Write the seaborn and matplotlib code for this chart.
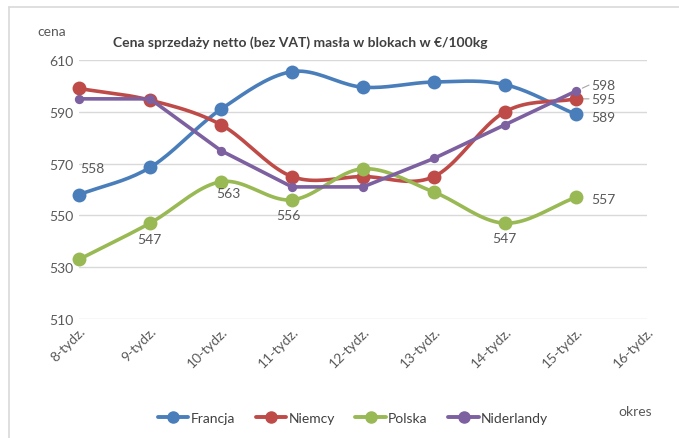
import numpy as np
import pandas as pd
import matplotlib
matplotlib.use("Agg")
import matplotlib.pyplot as plt
from matplotlib.lines import Line2D
import seaborn as sns

# ---- data ----
weeks = ["8-tydz.", "9-tydz.", "10-tydz.", "11-tydz.", "12-tydz.", "13-tydz.", "14-tydz.", "15-tydz.", "16-tydz."]
francja = [558, 568.5, 591, 605.5, 599.5, 601.5, 600.5, 589]
niemcy = [599, 594.5, 585, 565, 565, 565, 590, 595]
polska = [533, 547, 563, 556, 568, 559, 547, 557]
niderlandy = [595, 595, 575, 561, 561, 572, 585, 598]
series_names = ["Francja", "Niemcy", "Polska", "Niderlandy"]
colors = ["#4A7EBB", "#BE4B48", "#98B954", "#7D60A0"]
yticks = [510, 530, 550, 570, 590, 610]

sns.set_theme(style="white")
plt.rcParams["font.family"] = ["Lato", "DejaVu Sans"]
GRAY = "#595959"

W, H = 679, 439
fig = plt.figure(figsize=(W / 100, H / 100), dpi=100)
ax = fig.add_axes([79 / W, 1 - 320 / H, (647 - 79) / W, (320 - 61) / H])


def catmull(xs, ys, n=20):
    xs = np.asarray(xs, float)
    ys = np.asarray(ys, float)
    px = np.concatenate([[2 * xs[0] - xs[1]], xs, [2 * xs[-1] - xs[-2]]])
    py = np.concatenate([[2 * ys[0] - ys[1]], ys, [2 * ys[-1] - ys[-2]]])
    ox, oy = [], []
    t = np.linspace(0, 1, n, endpoint=False)
    for i in range(1, len(px) - 2):
        for arr, out in ((px, ox), (py, oy)):
            p0, p1, p2, p3 = arr[i - 1], arr[i], arr[i + 1], arr[i + 2]
            out.extend(0.5 * ((2 * p1) + (-p0 + p2) * t + (2 * p0 - 5 * p1 + 4 * p2 - p3) * t ** 2
                              + (-p0 + 3 * p1 - 3 * p2 + p3) * t ** 3))
    ox.append(xs[-1]); oy.append(ys[-1])
    return np.array(ox), np.array(oy)


data = [francja, niemcy, polska, niderlandy]
for k, (name, vals, col) in enumerate(zip(series_names, data, colors)):
    x = np.arange(len(vals))
    if name != "Niderlandy":
        sx, sy = catmull(x, vals)
        sns.lineplot(x=sx, y=sy, ax=ax, color=col, lw=2.6, sort=False, zorder=3 + k, clip_on=False)
        sns.scatterplot(x=x, y=vals, ax=ax, color=col, s=100, edgecolor=col, linewidth=0,
                        zorder=3 + k, clip_on=False)
    else:
        sns.lineplot(x=x, y=vals, ax=ax, color=col, lw=2.6, sort=False, zorder=3 + k, clip_on=False)
        sns.scatterplot(x=x, y=vals, ax=ax, color=col, s=45, edgecolor=col, linewidth=0,
                        zorder=3 + k, clip_on=False)

ax.set_xlim(0, 8)
ax.set_ylim(510, 610)
ax.set_yticks(yticks)
ax.set_yticklabels([str(v) for v in yticks], color=GRAY, fontsize=10)
ax.set_xticks(range(len(weeks)))
ax.set_xticklabels(weeks, rotation=45, ha="right", va="top", rotation_mode="anchor",
                   color=GRAY, fontsize=10)
for lab in ax.get_xticklabels():
    lab.set_transform(lab.get_transform() + matplotlib.transforms.ScaledTranslation(-9 / 100, -15 / 100, fig.dpi_scale_trans))
ax.tick_params(axis="both", length=0, pad=4)
ax.grid(axis="y", color="#D9D9D9", lw=1)
ax.grid(axis="x", visible=False)
for s in ax.spines.values():
    s.set_visible(False)
ax.set_xlabel("")
ax.set_ylabel("")

# data labels
def lab(x, y, text, dx, dy, ha="center"):
    ax.annotate(text, (x, y), xytext=(dx, -dy), textcoords="offset pixels",
                ha=ha, va="center", color=GRAY, fontsize=10, zorder=10)

lab(0, francja[0], "558", 13, -27)
lab(7, francja[7], "589", 15, 3, ha="left")
lab(7, niemcy[7], "595", 15, 0, ha="left")
lab(7, niderlandy[7], "598", 15, -6, ha="left")
lab(7, polska[7], "557", 15, 2, ha="left")
lab(1, polska[1], "547", -1, 16)
lab(2, polska[2], "563", 7, 11)
lab(3, polska[3], "556", -4, 15)
lab(6, polska[6], "547", -1, 15)
# leader lines
for (y0, dy) in ((niemcy[7], 0), (niderlandy[7], -6)):
    ax.annotate("", xy=(7, y0), xytext=(13, -dy), textcoords="offset pixels",
                arrowprops=dict(arrowstyle="-", color="#A6A6A6", lw=0.8, shrinkA=0, shrinkB=5), zorder=2)

# texts
fig.text(37 / W, 1 - 32 / H, "cena", color=GRAY, fontsize=10, ha="left", va="center")
fig.text(113 / W, 1 - 43 / H, "Cena sprzedaży netto (bez VAT) masła w blokach w €/100kg",
         color="#404040", fontsize=10, fontweight="bold", ha="left", va="center")
fig.text(618 / W, 1 - 412 / H, "okres", color=GRAY, fontsize=10, ha="left", va="center")

handles = [Line2D([], [], color=c, lw=2.8, marker="o", markersize=8) for c in colors]
fig.legend(handles, series_names, loc="center", bbox_to_anchor=(353 / W, 1 - 419 / H),
           ncol=4, frameon=False, fontsize=10, handlelength=2.2, handletextpad=0.15,
           columnspacing=1.5, labelcolor="#404040")

# chart area border
fig.add_artist(Line2D([9 / W, 9 / W], [0, 1 - 8 / H], color="#D9D9D9", lw=1.2, transform=fig.transFigure))
fig.add_artist(Line2D([9 / W, 1], [1 - 8 / H, 1 - 8 / H], color="#D9D9D9", lw=1.2, transform=fig.transFigure))

fig.savefig("out.png", dpi=100)
